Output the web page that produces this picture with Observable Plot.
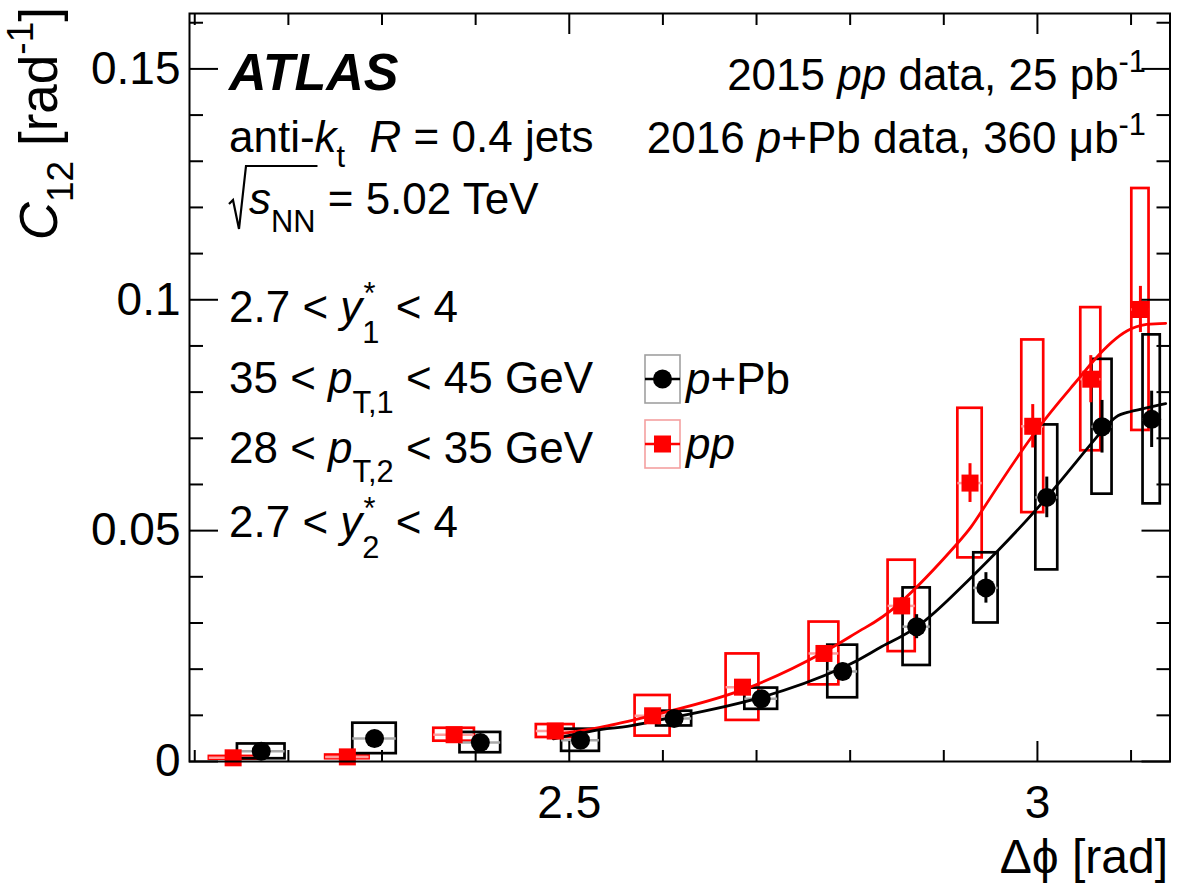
<!DOCTYPE html>
<html>
<head>
<meta charset="utf-8">
<script src="https://cdn.jsdelivr.net/npm/d3@7"></script>
<script src="https://cdn.jsdelivr.net/npm/@observablehq/plot@0.6"></script>
<style>
  html, body { margin: 0; padding: 0; background: #fff; }
  #chart { width: 1182px; height: 886px; }
  svg text { font-family: "Liberation Sans", Arial, Helvetica, sans-serif; }
</style>
</head>
<body>
<div id="chart"></div>
<script>
// C12 dijet correlation vs. azimuthal separation, 2.7 < y* < 4, 35-45 / 28-35 GeV

// p+Pb (2016) points
const dphiPPb = [2.171, 2.292, 2.405, 2.512, 2.612, 2.705, 2.792, 2.871, 2.945, 3.010, 3.069, 3.122];
const c12PPb  = [0.0022, 0.0050, 0.0041, 0.0046, 0.0093, 0.0136, 0.0195, 0.0292, 0.0376, 0.0572, 0.0725, 0.0741];
const statPPb = [0.0004, 0.0008, 0.0007, 0.0008, 0.0009, 0.0012, 0.0018, 0.0026, 0.0033, 0.0044, 0.0057, 0.0061];
const sysPPb  = [0.0016, 0.0033, 0.0022, 0.0024, 0.0016, 0.0023, 0.0057, 0.0084, 0.0076, 0.0157, 0.0146, 0.0183];

// pp (2015) points
const dphiPP = [2.141, 2.263, 2.377, 2.485, 2.589, 2.685, 2.772, 2.855, 2.928, 2.995, 3.057, 3.110];
const c12PP  = [0.0008, 0.0010, 0.0058, 0.0066, 0.0099, 0.0161, 0.0234, 0.0337, 0.0603, 0.0726, 0.0828, 0.0979];
const statPP = [0.0003, 0.0003, 0.0005, 0.0005, 0.0008, 0.0010, 0.0013, 0.0018, 0.0042, 0.0047, 0.0051, 0.0050];
const sysPP  = [0.0003, 0.0004, 0.0014, 0.0014, 0.0044, 0.0072, 0.0068, 0.0099, 0.0162, 0.0187, 0.0155, 0.0262];

// half width of the systematic boxes in each bin (rad)
const binHalfWidth = [0.0254, 0.0232, 0.0217, 0.0202, 0.0187, 0.0175, 0.0159, 0.0145, 0.0130, 0.0117, 0.0107, 0.0092];

// fitted curves
const fitPPbX = [2.483, 2.533, 2.562, 2.612, 2.705, 2.793, 2.832, 2.871, 2.914, 2.958, 3.010, 3.069, 3.096, 3.137];
const fitPPbY = [0.0049, 0.0069, 0.0076, 0.0096, 0.0139, 0.0204, 0.0247, 0.0291, 0.0368, 0.0457, 0.0572, 0.0716, 0.0756, 0.0775];
const fitPPX  = [2.483, 2.533, 2.589, 2.685, 2.772, 2.811, 2.853, 2.914, 2.943, 2.995, 3.039, 3.060, 3.096, 3.137];
const fitPPY  = [0.0058, 0.0074, 0.0100, 0.0155, 0.0237, 0.0284, 0.0343, 0.0471, 0.0550, 0.0706, 0.0817, 0.0868, 0.0933, 0.0949];

// axis ticks and labels
const yMajor = [0, 0.05, 0.1, 0.15];
const yTickLabels = ["0", "0.05", "0.1", "0.15"];
const xMajor = [2.5, 3];
const xTickLabels = ["2.5", "3"];
const yMinor = d3.range(1, 17).filter(i => i % 5 !== 0).map(i => i / 100);
const xMinor = [2.1, 2.2, 2.3, 2.4, 2.6, 2.7, 2.8, 2.9, 3.1];

const series = [
  {key: "pp", color: "#ff0000", light: "#ff9c9c", boxKey: "#f4a0a0", symbol: "square", r: 9.6,
   x: dphiPP, y: c12PP, stat: statPP, sys: sysPP, fitX: fitPPX, fitY: fitPPY},
  {key: "pPb", color: "#000000", light: "#a8a8a8", boxKey: "#a0a0a0", symbol: "circle", r: 9.5,
   x: dphiPPb, y: c12PPb, stat: statPPb, sys: sysPPb, fitX: fitPPbX, fitY: fitPPbY}
];

const rowsOf = s => s.x.map((x, i) => ({x, y: s.y[i], stat: s.stat[i], sys: s.sys[i], hw: binHalfWidth[i]}));
const fitOf = s => s.fitX.map((x, i) => ({x, y: s.fitY[i]}));

const boxMarks = series.flatMap(s => [
  Plot.rect(rowsOf(s), {x1: d => d.x - d.hw, x2: d => d.x + d.hw, y1: d => d.y - d.sys, y2: d => d.y + d.sys,
    fill: "none", stroke: s.color, strokeWidth: 2.7, clip: true}),
  Plot.ruleY(rowsOf(s), {y: "y", x1: d => d.x - d.hw, x2: d => d.x + d.hw, stroke: s.light, strokeWidth: 2.5})
]);
const fitMarks = series.map(s => Plot.line(fitOf(s), {x: "x", y: "y", curve: "natural", stroke: s.color, strokeWidth: 2.8}));
const pointMarks = series.flatMap(s => [
  Plot.ruleX(rowsOf(s), {x: "x", y1: d => d.y - d.stat, y2: d => d.y + d.stat, stroke: s.color, strokeWidth: 3}),
  Plot.dot(rowsOf(s), {x: "x", y: "y", symbol: s.symbol, r: s.r, fill: s.color, stroke: "none"})
]);

const tickAxis = (axis, anchor, ticks, size) =>
  axis({anchor, ticks, tickSize: -size, tickFormat: () => "", strokeWidth: 2, label: null});

const plot = Plot.plot({
  width: 1182,
  height: 886,
  marginLeft: 189,
  marginRight: 12.5,
  marginTop: 13,
  marginBottom: 125,
  style: {background: "white", color: "black", fontFamily: "Liberation Sans, Arial, sans-serif", overflow: "visible"},
  x: {domain: [2 * Math.PI / 3, Math.PI]},
  y: {domain: [0, 0.162]},
  marks: [
    ...boxMarks,
    ...fitMarks,
    ...pointMarks,
    Plot.frame({stroke: "black", strokeWidth: 2}),
    tickAxis(Plot.axisY, "left", yMajor, 29),
    tickAxis(Plot.axisY, "right", yMajor, 29),
    tickAxis(Plot.axisY, "left", yMinor, 14),
    tickAxis(Plot.axisY, "right", yMinor, 14),
    tickAxis(Plot.axisX, "bottom", xMajor, 20),
    tickAxis(Plot.axisX, "top", xMajor, 20),
    tickAxis(Plot.axisX, "bottom", xMinor, 11),
    tickAxis(Plot.axisX, "top", xMinor, 11),
    Plot.axisY({anchor: "left", ticks: yMajor, tickSize: 0, tickPadding: 9, fontSize: 46,
      tickFormat: d => yTickLabels[yMajor.indexOf(d)], label: null}),
    Plot.axisX({anchor: "bottom", ticks: xMajor, tickSize: 0, tickPadding: 24, fontSize: 46,
      tickFormat: d => xTickLabels[xMajor.indexOf(d)], label: null})
  ]
});

document.getElementById("chart").appendChild(plot);

// ---- rich text annotations (sub/superscripts) ----
const svg = d3.select(plot);
const FS = 44;

function rich(x, y, segs, {anchor = "start", size = FS, weight = null, transform = null} = {}) {
  const t = svg.append("text")
    .attr("x", x).attr("y", y)
    .attr("font-size", size)
    .attr("text-anchor", anchor)
    .attr("fill", "black");
  if (weight) t.attr("font-weight", weight);
  if (transform) t.attr("transform", transform).attr("x", 0).attr("y", 0);
  let shift = 0;
  for (const s of segs) {
    const seg = typeof s === "string" ? {t: s} : s;
    const target = seg.sub ? size * (seg.drop ?? 0.36) : seg.sup ? -size * (seg.rise ?? 0.42) : 0;
    const ts = t.append("tspan")
      .attr("dy", target - shift)
      .attr("font-size", (seg.sub || seg.sup) ? size * 0.7 : size)
      .text(seg.t);
    if (seg.it) ts.attr("font-style", "italic");
    if (seg.dx) ts.attr("dx", seg.dx);
    shift = target;
  }
  return t;
}

const L = 229;
rich(L, 90, [{t: "ATLAS", it: true}], {size: 52, weight: "bold"});
rich(L, 152, ["anti-", {t: "k", it: true}, {t: "t", sub: true, drop: 0.34}, {t: "  "}, {t: "R", it: true}, " = 0.4 jets"]);

// √s_NN line: radical drawn as a path over the text
const sq = rich(L + 20, 214, [{t: "s", it: true}, {t: "NN", sub: true, drop: 0.42}, " = 5.02 TeV"]);
{
  const nn = sq.selectAll("tspan").nodes();
  const b1 = nn[1].getBBox();
  const xEnd = b1.x + b1.width + 2;
  const top = 166;
  svg.append("path")
    .attr("d", `M${L},${204} L${L + 4},${200} L${L + 10},${229} L${L + 17},${top} L${xEnd},${top}`)
    .attr("fill", "none").attr("stroke", "black").attr("stroke-width", 2.2);
}

const R = 1146;
rich(R, 90, ["2015 ", {t: "pp", it: true}, " data, 25 pb", {t: "-1", sup: true}], {anchor: "end"});
rich(R, 153, ["2016 ", {t: "p", it: true}, "+Pb data, 360 μb", {t: "-1", sup: true}], {anchor: "end"});

rich(L, 322, ["2.7 < ", {t: "y", it: true}, {t: "1", sub: true, drop: 0.48}, {t: "*", sup: true, rise: 0.42, dx: -16}, {t: " < 4", dx: 8}]);
rich(L, 393, ["35 < ", {t: "p", it: true}, {t: "T,1", sub: true, drop: 0.46}, " < 45 GeV"]);
rich(L, 463, ["28 < ", {t: "p", it: true}, {t: "T,2", sub: true, drop: 0.44}, " < 35 GeV"]);
rich(L, 537, ["2.7 < ", {t: "y", it: true}, {t: "2", sub: true, drop: 0.48}, {t: "*", sup: true, rise: 0.4, dx: -16}, {t: " < 4", dx: 8}]);

// legend
const legend = [
  {s: series[1], y: 379, label: [{t: "p", it: true}, "+Pb"]},
  {s: series[0], y: 444, label: [{t: "pp", it: true}]}
];
for (const e of legend) {
  const g = svg.append("g");
  g.append("rect").attr("x", 645).attr("y", e.y - 24).attr("width", 35).attr("height", 48)
    .attr("fill", "none").attr("stroke", e.s.boxKey).attr("stroke-width", 1.6);
  g.append("line").attr("x1", 645).attr("x2", 680).attr("y1", e.y).attr("y2", e.y)
    .attr("stroke", e.s.color).attr("stroke-width", 2.6);
  if (e.s.symbol === "circle") {
    g.append("circle").attr("cx", 662.5).attr("cy", e.y).attr("r", 9.5).attr("fill", e.s.color);
  } else {
    g.append("rect").attr("x", 662.5 - 8.5).attr("y", e.y - 8.5).attr("width", 17).attr("height", 17).attr("fill", e.s.color);
  }
  rich(686, e.y + 15, e.label);
}

// axis titles
rich(0, 0, [{t: "C", it: true}, {t: "12", sub: true, drop: 0.3}, " [rad", {t: "-1", sup: true, rise: 0.45}, "]"],
  {anchor: "end", size: 53, transform: "translate(57,7) rotate(-90)"});
rich(1168, 873, ["Δϕ [rad]"], {anchor: "end", size: 48});
</script>
</body>
</html>
